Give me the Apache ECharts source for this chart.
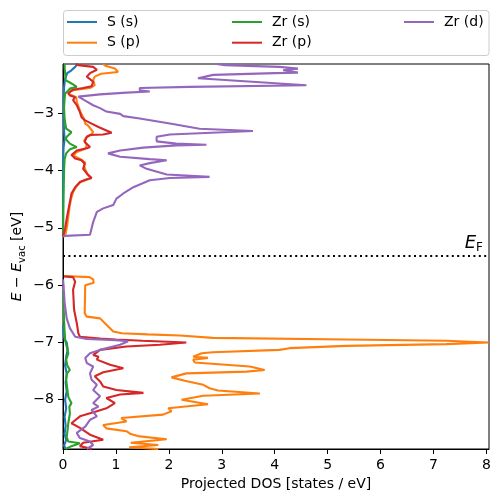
<!DOCTYPE html>
<html>
<head>
<meta charset="utf-8">
<script src="https://cdn.jsdelivr.net/npm/echarts@6/dist/echarts.min.js"></script>
<style>html,body{margin:0;padding:0;background:#fff}#c{width:501px;height:502px}</style>
</head>
<body>
<div id="c"></div>
<script>
// [energy (eV), projected DOS (states/eV)]
const sS_valence = [[-8.86,0.05],[-8.80,0.02],[-8.70,0.06],[-8.60,0.03],[-8.45,0.05],[-8.30,0.03],[-8.15,0.06],[-8.00,0.04],[-7.85,0.07],[-7.70,0.05],[-7.55,0.07],[-7.40,0.04],[-7.25,0.06],[-7.12,0.09],[-7.00,0.07],[-6.95,0.03],[-6.85,0.01],[-6.70,0.00]];
const sS_conduction = [[-5.15,0.00],[-4.00,0.00],[-3.60,0.01],[-3.45,0.03],[-3.30,0.02],[-3.10,0.01],[-2.80,0.01],[-2.55,0.02],[-2.40,0.04],[-2.30,0.08],[-2.25,0.16],[-2.19,0.23],[-2.14,0.28]];

const sP_valence = [[-8.86,1.80],[-8.83,1.25],[-8.79,1.80],[-8.75,1.28],[-8.69,1.96],[-8.64,1.45],[-8.60,1.28],[-8.55,1.20],[-8.50,0.82],[-8.44,0.76],[-8.38,1.20],[-8.32,1.10],[-8.26,1.89],[-8.20,2.05],[-8.15,1.99],[-8.08,2.74],[-8.00,2.24],[-7.93,2.65],[-7.89,3.72],[-7.84,2.93],[-7.80,2.77],[-7.74,2.65],[-7.67,2.30],[-7.61,2.05],[-7.54,2.33],[-7.51,3.47],[-7.48,3.81],[-7.42,3.53],[-7.35,2.49],[-7.30,2.46],[-7.27,2.74],[-7.25,2.46],[-7.19,2.62],[-7.17,2.83],[-7.13,4.09],[-7.10,4.28],[-7.06,5.35],[-7.03,7.24],[-7.00,8.04],[-6.97,7.24],[-6.95,5.35],[-6.92,2.83],[-6.88,2.21],[-6.86,1.60],[-6.84,1.11],[-6.81,0.95],[-6.69,0.82],[-6.58,0.70],[-6.55,0.45],[-6.49,0.41],[-6.00,0.42],[-5.96,0.58],[-5.90,0.57],[-5.86,0.50],[-5.84,0.02]];
const sP_conduction = [[-5.15,0.00],[-5.10,0.05],[-4.95,0.08],[-4.80,0.10],[-4.66,0.12],[-4.50,0.15],[-4.38,0.19],[-4.28,0.25],[-4.20,0.33],[-4.13,0.54],[-4.08,0.47],[-4.00,0.43],[-3.92,0.40],[-3.86,0.42],[-3.80,0.33],[-3.74,0.20],[-3.68,0.25],[-3.62,0.42],[-3.55,0.45],[-3.48,0.40],[-3.43,0.43],[-3.38,0.52],[-3.33,0.57],[-3.27,0.52],[-3.22,0.48],[-3.18,0.42],[-3.10,0.40],[-3.00,0.34],[-2.90,0.30],[-2.80,0.26],[-2.72,0.25],[-2.66,0.10],[-2.60,0.15],[-2.56,0.51],[-2.51,0.60],[-2.42,0.57],[-2.36,0.60],[-2.31,0.72],[-2.28,1.04],[-2.22,0.98],[-2.17,0.80],[-2.14,0.76]];

const zrS_valence = [[-8.86,0.05],[-8.81,0.16],[-8.76,0.32],[-8.73,0.10],[-8.65,0.07],[-8.50,0.09],[-8.41,0.10],[-8.24,0.13],[-8.12,0.12],[-8.06,0.16],[-7.95,0.10],[-7.80,0.08],[-7.65,0.06],[-7.55,0.07],[-7.48,0.13],[-7.40,0.08],[-7.30,0.06],[-7.19,0.10],[-7.07,0.07],[-6.95,0.04],[-6.80,0.03],[-6.60,0.02],[-6.30,0.01],[-6.10,0.00]];
const zrS_conduction = [[-5.15,0.00],[-4.50,0.01],[-4.00,0.02],[-3.80,0.03],[-3.70,0.06],[-3.63,0.13],[-3.59,0.26],[-3.53,0.13],[-3.45,0.05],[-3.41,0.07],[-3.33,0.16],[-3.27,0.06],[-3.10,0.03],[-2.90,0.02],[-2.75,0.03],[-2.66,0.04],[-2.57,0.13],[-2.54,0.26],[-2.48,0.16],[-2.42,0.05],[-2.30,0.04],[-2.20,0.03],[-2.14,0.03]];

const zrP_valence = [[-8.86,0.55],[-8.81,0.32],[-8.75,0.38],[-8.70,0.76],[-8.61,0.51],[-8.49,0.32],[-8.41,0.16],[-8.29,0.32],[-8.20,0.64],[-8.15,0.82],[-8.06,0.98],[-7.97,0.82],[-7.91,1.08],[-7.88,1.52],[-7.83,1.01],[-7.77,0.76],[-7.68,0.70],[-7.59,0.60],[-7.52,0.76],[-7.45,1.14],[-7.39,0.89],[-7.30,0.64],[-7.25,0.67],[-7.22,0.57],[-7.13,0.70],[-7.07,1.20],[-7.04,1.83],[-7.00,2.33],[-6.97,1.50],[-6.95,1.00],[-6.93,0.70],[-6.90,0.32],[-6.84,0.29],[-6.66,0.26],[-6.43,0.21],[-6.08,0.19],[-5.94,0.23],[-5.86,0.19],[-5.85,0.02]];
const zrP_conduction = [[-5.15,0.00],[-5.01,0.04],[-4.84,0.07],[-4.69,0.10],[-4.55,0.13],[-4.40,0.16],[-4.29,0.23],[-4.20,0.32],[-4.15,0.45],[-4.13,0.54],[-4.05,0.45],[-3.97,0.38],[-3.88,0.41],[-3.82,0.35],[-3.79,0.23],[-3.73,0.16],[-3.65,0.26],[-3.61,0.45],[-3.59,0.51],[-3.50,0.41],[-3.41,0.45],[-3.38,0.51],[-3.37,0.76],[-3.34,0.92],[-3.30,0.82],[-3.24,0.67],[-3.18,0.54],[-3.12,0.41],[-3.07,0.35],[-2.98,0.32],[-2.86,0.26],[-2.77,0.19],[-2.72,0.23],[-2.69,0.13],[-2.65,0.10],[-2.59,0.19],[-2.56,0.38],[-2.53,0.54],[-2.45,0.57],[-2.36,0.45],[-2.30,0.51],[-2.24,0.64],[-2.19,0.57],[-2.16,0.29],[-2.14,0.24]];

const zrD_valence = [[-8.86,0.45],[-8.84,0.45],[-8.79,0.57],[-8.73,0.51],[-8.67,0.32],[-8.58,0.26],[-8.47,0.42],[-8.35,0.51],[-8.29,0.64],[-8.18,0.54],[-8.12,0.67],[-8.06,0.57],[-7.94,0.70],[-7.83,0.57],[-7.74,0.64],[-7.65,0.54],[-7.54,0.51],[-7.42,0.57],[-7.36,0.45],[-7.27,0.42],[-7.19,0.51],[-7.13,0.70],[-7.04,1.08],[-6.98,1.23],[-6.96,1.00],[-6.94,0.45],[-6.90,0.23],[-6.75,0.13],[-6.58,0.07],[-6.30,0.03],[-6.00,0.01],[-5.90,0.00]];
const zrD_conduction = [[-5.15,0.00],[-5.14,0.04],[-5.12,0.51],[-4.90,0.57],[-4.72,0.64],[-4.66,0.76],[-4.60,0.95],[-4.49,1.01],[-4.40,1.14],[-4.29,1.33],[-4.17,1.64],[-4.13,2.02],[-4.11,2.77],[-4.07,1.96],[-3.97,1.58],[-3.91,1.45],[-3.87,1.64],[-3.82,1.96],[-3.80,1.64],[-3.76,1.08],[-3.70,0.85],[-3.65,1.08],[-3.60,1.52],[-3.56,2.14],[-3.55,2.71],[-3.53,2.14],[-3.49,1.77],[-3.41,1.77],[-3.37,2.02],[-3.31,3.59],[-3.27,2.58],[-3.18,2.02],[-3.09,1.45],[-3.05,1.14],[-3.01,1.08],[-2.97,0.82],[-2.91,0.70],[-2.86,0.57],[-2.78,0.42],[-2.71,0.29],[-2.67,0.70],[-2.64,1.20],[-2.62,1.64],[-2.60,1.45],[-2.56,1.45],[-2.54,2.40],[-2.51,4.60],[-2.39,2.55],[-2.33,2.84],[-2.30,4.00],[-2.29,4.44],[-2.25,4.16],[-2.22,4.44],[-2.19,4.09],[-2.16,3.06],[-2.14,2.90]];

const fermiLevel = -5.49;
const xTicks = [0,1,2,3,4,5,6,7,8];
const yTicks = [-8,-7,-6,-5,-4,-3];
const names = ['S (s)','S (p)','Zr (s)','Zr (p)','Zr (d)'];
const colors = ['#1f77b4','#ff7f0e','#2ca02c','#d62728','#9467bd'];
const bands = [
  [sS_valence, sS_conduction],
  [sP_valence, sP_conduction],
  [zrS_valence, zrS_conduction],
  [zrP_valence, zrP_conduction],
  [zrD_valence, zrD_conduction]
];

const FONT = 'DejaVu Sans';
const series = [];
bands.forEach((pair, i) => {
  pair.forEach(arr => {
    series.push({
      type: 'line', name: names[i], showSymbol: false, symbol: 'none',
      data: arr.map(p => [p[1], p[0]]),
      lineStyle: { color: colors[i], width: 2.1 }, itemStyle: { color: colors[i] },
      z: 2 + i, animation: false, silent: true
    });
  });
});
series.push({
  type: 'line', name: 'EF', data: [], silent: true, animation: false,
  markLine: {
    silent: true, symbol: ['none','none'], animation: false,
    lineStyle: { type: [2, 3.4], color: '#000', width: 2 },
    label: {
      show: true, position: 'insideEndTop', distance: [6, 2],
      formatter: '{e|E}{f|F}',
      rich: {
        e: { fontFamily: FONT, fontStyle: 'italic', fontSize: 18, color: '#000', lineHeight: 22, verticalAlign: 'middle' },
        f: { fontFamily: FONT, fontSize: 12, color: '#000', lineHeight: 22, verticalAlign: 'bottom' }
      }
    },
    data: [{ yAxis: fermiLevel }]
  }
});

const legendBase = {
  orient: 'vertical', icon: 'rect', itemWidth: 30, itemHeight: 2, itemGap: 4.7, padding: 0, top: 14,
  selectedMode: false,
  textStyle: { fontFamily: FONT, fontSize: 14, lineHeight: 16, color: '#000', padding: [0,0,0,5] }
};

const chart = echarts.init(document.getElementById('c'), null, { renderer: 'canvas' });
chart.setOption({
  animation: false,
  backgroundColor: '#fff',
  grid: { left: 63, right: 12, top: 64, bottom: 53, containLabel: false, outerBoundsMode: 'none',
    show: true, borderColor: '#000', borderWidth: 1, backgroundColor: 'transparent' },
  legend: [
    Object.assign({}, legendBase, { left: 67, data: names.slice(0,2) }),
    Object.assign({}, legendBase, { left: 232, data: names.slice(2,4) }),
    Object.assign({}, legendBase, { left: 404, data: names.slice(4) })
  ],
  graphic: [{
    type: 'rect', z: 3, silent: true,
    shape: { x: 63.5, y: 10.5, width: 425.5, height: 45, r: 3 },
    style: { fill: '#fff', stroke: '#cccccc', lineWidth: 1 }
  }],
  xAxis: {
    type: 'value', min: 0, max: 8.05, interval: 1,
    name: 'Projected DOS [states / eV]', nameLocation: 'middle', nameGap: 28, nameMoveOverlap: false,
    nameTextStyle: { fontFamily: FONT, fontSize: 14, color: '#000' },
    axisLine: { show: true, lineStyle: { color: '#000', width: 1 } },
    axisTick: { show: true, inside: false, length: 5, customValues: xTicks, lineStyle: { color: '#000', width: 1 } },
    axisLabel: { margin: 9, fontFamily: FONT, fontSize: 14, color: '#000', customValues: xTicks },
    splitLine: { show: false }
  },
  yAxis: {
    type: 'value', min: -8.86, max: -2.14,
    name: '{i|E} − {i|E}{s|vac} [eV]', nameLocation: 'middle', nameGap: 36, nameRotate: 90, nameMoveOverlap: false,
    nameTextStyle: { fontFamily: FONT, fontSize: 14, color: '#000',
      rich: {
        i: { fontFamily: FONT, fontStyle: 'italic', fontSize: 14, color: '#000', lineHeight: 20, verticalAlign: 'middle' },
        s: { fontFamily: FONT, fontSize: 10, color: '#000', lineHeight: 20, verticalAlign: 'bottom' }
      } },
    axisLine: { show: true, lineStyle: { color: '#000', width: 1 } },
    axisTick: { show: true, inside: false, length: 5, customValues: yTicks, lineStyle: { color: '#000', width: 1 } },
    axisLabel: { margin: 9, fontFamily: FONT, fontSize: 14, color: '#000', customValues: yTicks,
      formatter: v => String(v).replace('-', '\u2212') },
    splitLine: { show: false }
  },
  series: series
});
</script>
</body>
</html>
